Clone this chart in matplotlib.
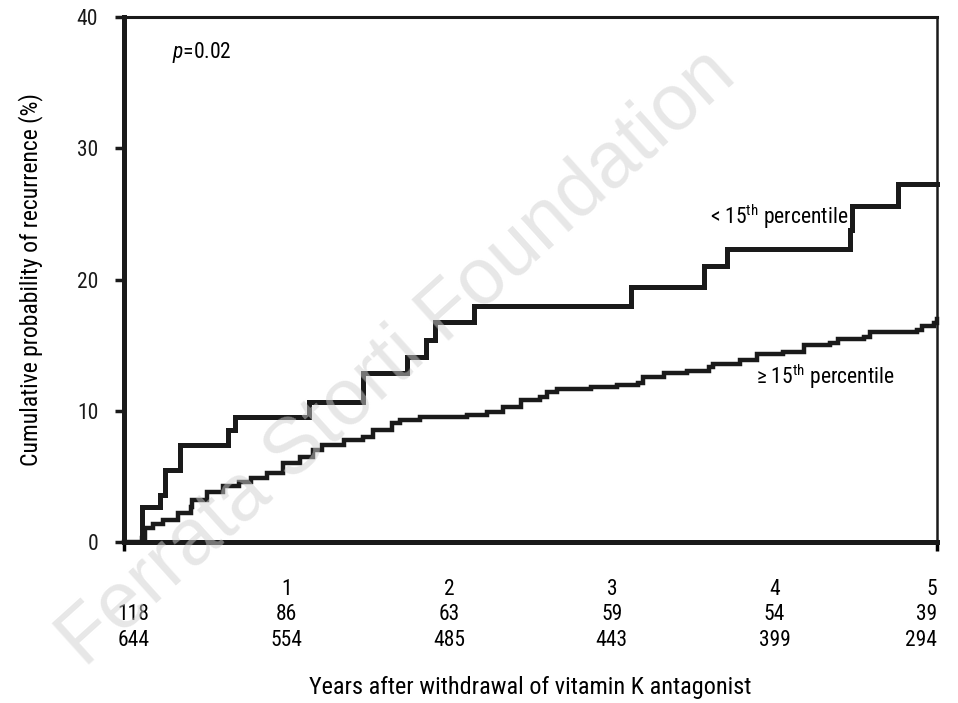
import matplotlib
matplotlib.use("Agg")
import matplotlib.pyplot as plt
from matplotlib import font_manager

# pick a condensed face if we have one
names = set(f.name for f in font_manager.fontManager.ttflist)
family = "DejaVu Sans"
for cand in ["Liberation Sans Narrow", "Roboto Condensed", "DejaVu Sans Condensed"]:
    if cand in names:
        family = cand
        break
plt.rcParams["font.family"] = [family, "DejaVu Sans"]
plt.rcParams["mathtext.fontset"] = "custom"
plt.rcParams["mathtext.rm"] = family
plt.rcParams["mathtext.it"] = family + ":italic"
plt.rcParams["mathtext.default"] = "regular"

# step data: years, cumulative probability (%)
upper_t = [0, 0.11, 0.22, 0.25, 0.345, 0.64, 0.68, 1.14, 1.47, 1.74, 1.86, 1.91,
           2.15, 3.12, 3.57, 3.71, 4.465, 4.48, 4.76, 5.0]
upper_v = [0, 2.7, 3.6, 5.5, 7.4, 8.5, 9.5, 10.7, 12.9, 14.1, 15.4, 16.8,
           18.0, 19.4, 21.0, 22.3, 23.8, 25.6, 27.3, 27.3]

lower_t = [0, 0.11, 0.13, 0.18, 0.24, 0.33, 0.41, 0.42, 0.51, 0.61, 0.71, 0.78,
           0.88, 0.98, 1.08, 1.16, 1.22, 1.35, 1.47, 1.53, 1.65, 1.70, 1.82, 1.94,
           2.09, 2.11, 2.23, 2.33, 2.44, 2.56, 2.60, 2.66, 2.87, 3.03, 3.16, 3.19,
           3.32, 3.46, 3.60, 3.62, 3.79, 3.89, 4.05, 4.18, 4.34, 4.39, 4.55, 4.59,
           4.88, 4.91, 4.98, 5.0]
lower_v = [0, 0.3, 1.1, 1.4, 1.7, 2.2, 2.7, 3.2, 3.8, 4.3, 4.6, 4.9,
           5.25, 6.0, 6.5, 7.0, 7.4, 7.8, 8.0, 8.5, 9.05, 9.3, 9.5, 9.55,
           9.55, 9.7, 9.9, 10.3, 10.8, 11.07, 11.45, 11.65, 11.8, 12.0, 12.1, 12.6,
           12.9, 13.0, 13.35, 13.6, 13.9, 14.3, 14.5, 15.0, 15.2, 15.45, 15.6, 16.0,
           16.15, 16.45, 16.7, 17.0]

years = [0, 1, 2, 3, 4, 5]
at_risk_low = ["118", "86", "63", "59", "54", "39"]
at_risk_high = ["644", "554", "485", "443", "399", "294"]
yticks = [0, 10, 20, 30, 40]

fig = plt.figure(figsize=(9.58, 7.03), dpi=100)
ax = fig.add_axes([124/958, 1 - 542/703, (937-124)/958, (542-17)/703], zorder=1)

ax.step(upper_t, upper_v, where="post", color="#1a1a1a", lw=3.6, clip_on=False,
        solid_joinstyle="miter", zorder=3)
ax.step(lower_t, lower_v, where="post", color="#1a1a1a", lw=3.2, clip_on=False,
        solid_joinstyle="miter", zorder=3)

ax.set_xlim(0, 5)
ax.set_ylim(0, 40)
ax.patch.set_alpha(0)

ax.spines["left"].set_linewidth(3.6)
ax.spines["bottom"].set_linewidth(3.6)
ax.spines["top"].set_linewidth(2.2)
ax.spines["right"].set_linewidth(1.8)
for s in ax.spines.values():
    s.set_color("#1a1a1a")

ax.set_yticks(yticks)
ax.set_yticklabels([str(v) for v in yticks])
ax.tick_params(axis="y", direction="out", length=6.5, width=2.5, pad=12,
               labelsize=15.5, colors="#1a1a1a")
ax.set_xticks([years[0], years[-1]])
ax.set_xticklabels(["", ""])
ax.tick_params(axis="x", direction="out", length=6.5, width=2.5)

fs = 15.5
tr = ax.get_xaxis_transform()
for i, yr in enumerate(years):
    if i == 0:
        x, ha = -0.04, "left"
    elif i == len(years) - 1:
        x, ha = 5.0, "right"
    else:
        x, ha = yr, "center"
    if i > 0:
        ax.text(x, -0.0914, str(yr), transform=tr, ha=ha, va="center", fontsize=fs)
    ax.text(x, -0.139, at_risk_low[i], transform=tr, ha=ha, va="center", fontsize=fs)
    ax.text(x, -0.187, at_risk_high[i], transform=tr, ha=ha, va="center", fontsize=fs)

ax.text(2.5, -0.278, "Years after withdrawal of vitamin K antagonist", transform=tr,
        ha="center", va="center", fontsize=17.5)
ax.set_ylabel("Cumulative probability of recurrence (%)", fontsize=17, labelpad=24)

ax.text(0.295, 37.3, r"$\mathit{p}$=0.02", fontsize=15.5, ha="left", va="center")
ax.text(4.453, 24.75, r"< 15$^{th}$ percentile", fontsize=15.5, ha="right", va="center")
ax.text(3.887, 12.57, "\u2265 15$^{th}$ percentile", fontsize=15.5, ha="left", va="center")

# watermark, laid over the chart semi-transparently
fig.text(0.415, 0.49, "Ferrata Storti Foundation", fontsize=57, color="#d0d0d0",
         alpha=0.5, rotation=42, ha="center", va="center", family="Liberation Sans",
         zorder=5)

fig.savefig("out.png", dpi=100)
